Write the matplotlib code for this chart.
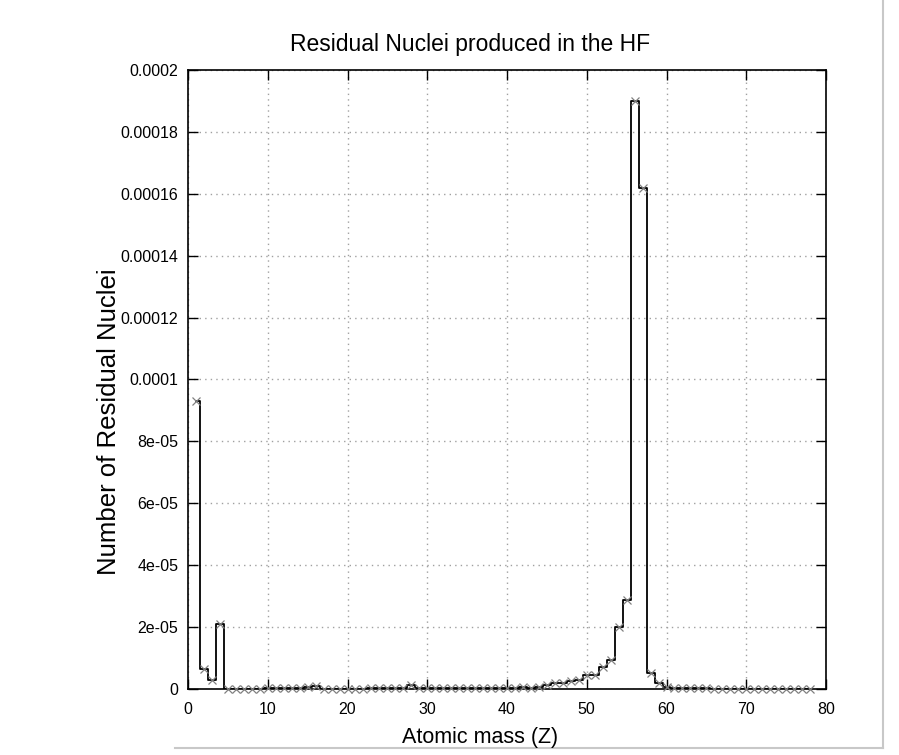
import matplotlib
matplotlib.use("Agg")
import matplotlib.pyplot as plt
from matplotlib.lines import Line2D

# ---- data ----
mass_number = list(range(1, 79))
residual_counts = [
    93.2e-6, 6.5e-6, 3.0e-6, 21.0e-6, 0.0, 0.0, 0.0, 0.0, 0.0, 0.3e-6,   # 1-10
    0.3e-6, 0.3e-6, 0.3e-6, 0.3e-6, 0.8e-6, 0.9e-6, 0.0, 0.0, 0.0, 0.0,   # 11-20
    0.0, 0.0, 0.3e-6, 0.3e-6, 0.3e-6, 0.3e-6, 0.3e-6, 1.3e-6, 0.3e-6, 0.3e-6,  # 21-30
    0.3e-6, 0.3e-6, 0.3e-6, 0.3e-6, 0.3e-6, 0.3e-6, 0.3e-6, 0.3e-6, 0.3e-6, 0.3e-6,  # 31-40
    0.3e-6, 0.5e-6, 0.3e-6, 0.8e-6, 1.3e-6, 1.8e-6, 1.9e-6, 2.6e-6, 3.0e-6, 4.4e-6,  # 41-50
    4.6e-6, 7.2e-6, 9.4e-6, 20.0e-6, 28.8e-6, 190.0e-6, 161.8e-6, 5.1e-6, 2.0e-6, 0.8e-6,  # 51-60
    0.3e-6, 0.3e-6, 0.3e-6, 0.3e-6, 0.3e-6, 0.0, 0.0, 0.0, 0.0, 0.0,  # 61-70
    0.0, 0.0, 0.0, 0.0, 0.0, 0.0, 0.0, 0.0,  # 71-78
]
x_ticks = [0, 10, 20, 30, 40, 50, 60, 70, 80]
y_ticks = [0, 2e-5, 4e-5, 6e-5, 8e-5, 1e-4, 1.2e-4, 1.4e-4, 1.6e-4, 1.8e-4, 2e-4]
y_tick_labels = ["0", "2e-05", "4e-05", "6e-05", "8e-05", "0.0001",
                 "0.00012", "0.00014", "0.00016", "0.00018", "0.0002"]

title = "Residual Nuclei produced in the HF"
xlabel = "Atomic mass (Z)"
ylabel = "Number of Residual Nuclei"

plt.rcParams['font.family'] = ['Liberation Sans', 'DejaVu Sans']

W, H = 899, 755
fig = plt.figure(figsize=(W / 100, H / 100), dpi=100)
ax = fig.add_axes([188 / W, 1 - 689 / H, (826 - 188) / W, (689 - 70) / H])

ax.step(mass_number, residual_counts, where='mid', color='black', lw=1.3, zorder=3)
ax.plot(mass_number, residual_counts, linestyle='none', marker='x', ms=6,
        mew=0.9, color='#808080', zorder=4, clip_on=False)

ax.set_xlim(0, 80)
ax.set_ylim(0, 2e-4)
ax.set_xticks(x_ticks)
ax.set_xticklabels([str(t) for t in x_ticks])
ax.set_yticks(y_ticks)
ax.set_yticklabels(y_tick_labels)
ax.tick_params(direction='in', length=7, width=1.0, top=True, right=True,
               labelsize=11.5, colors='black')
ax.tick_params(axis='x', pad=9)
ax.tick_params(axis='y', pad=7)
ax.grid(True, color='#a0a0a0', linestyle=(0, (1, 3)), linewidth=1.0)
for s in ax.spines.values():
    s.set_linewidth(1.2)
    s.set_color('black')

fig.text(470 / W, 1 - 45 / H, title, ha='center', va='center', fontsize=16.5)
fig.text(480 / W, 1 - 737 / H, xlabel, ha='center', va='center', fontsize=15.5)
fig.text(109 / W, 1 - 422 / H, ylabel, ha='center', va='center', fontsize=18.5, rotation=90)

# screenshot frame lines
fig.add_artist(Line2D([883 / W, 883 / W], [1 - 748 / H, 1.0], color='#c8c8c8', lw=1.5))
fig.add_artist(Line2D([175 / W, 883 / W], [1 - 748 / H, 1 - 748 / H], color='#c8c8c8', lw=1.5))

fig.savefig("out.png", dpi=100)
